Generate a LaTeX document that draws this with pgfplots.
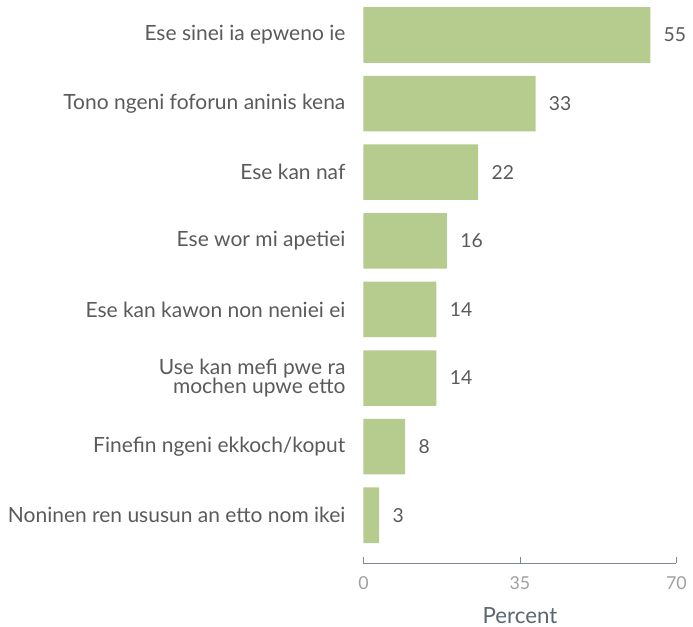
\documentclass[border={8bp 0bp 3bp 0bp}]{standalone}
\usepackage{pgfplots}
\pgfplotsset{compat=1.18}
\usepackage{fontspec}
\setmainfont{Lato}
\definecolor{barg}{HTML}{B5CC8E}
\definecolor{lab}{HTML}{5A5A5A}
\definecolor{tickc}{HTML}{A0A0A0}
\definecolor{axc}{HTML}{7F8790}
\definecolor{ttl}{HTML}{5B6670}
\begin{document}
\begin{tikzpicture}
\begin{axis}[
  scale only axis,
  width=315bp, height=567bp,
  xbar, bar width=0.81,
  y dir=reverse,
  ymin=-0.51, ymax=7.70,
  xmin=0, xmax=60,
  xtick={0,30,60}, xticklabels={0,35,70},
  ytick={0,...,7},
  yticklabels={Ese sinei ia epweno ie, Tono ngeni foforun aninis kena, Ese kan naf, Ese wor mi apetiei, Ese kan kawon non neniei ei, {Use kan mefi pwe ra\\mochen upwe etto}, Finefin ngeni ekkoch/koput, Noninen ren ususun an etto nom ikei},
  yticklabel style={align=right, font=\fontsize{21.2}{20}\selectfont, text=lab, inner xsep=0pt, xshift=-18bp},
  axis y line*=left,
  y axis line style={draw=none},
  major y tick style={draw=none},
  axis x line*=bottom,
  x axis line style={draw=axc, line width=0.8pt, -},
  xtick style={draw=axc, line width=0.8pt},
  tick align=inside, major tick length=6bp,
  /pgf/number format/assume math mode=true,
  xticklabel style={font=\fontsize{18}{18}\selectfont, text=tickc, yshift=-10bp},
  xlabel={Percent},
  xlabel style={font=\fontsize{22.5}{22}\selectfont, text=ttl, yshift=-11bp},
  nodes near coords,
  nodes near coords style={font=\fontsize{19.5}{18}\selectfont, text=lab, anchor=west, xshift=10bp},
  clip=false,
]
\addplot[draw=none, fill=barg] coordinates {(55,0) (33,1) (22,2) (16,3) (14,4) (14,5) (8,6) (3,7)};
\end{axis}
\end{tikzpicture}
\end{document}
